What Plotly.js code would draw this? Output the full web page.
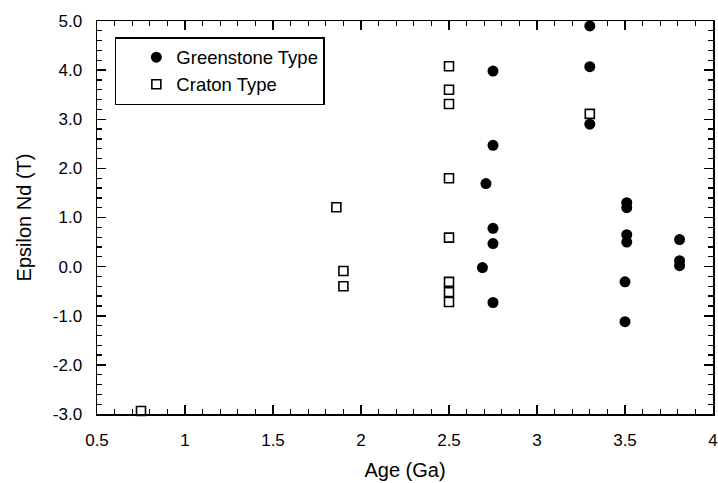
<!DOCTYPE html>
<html>
<head>
<meta charset="utf-8">
<script src="https://cdn.plot.ly/plotly-3.0.1.min.js"></script>
<style>html,body{margin:0;padding:0;background:#fff;}#chart{width:718px;height:483px;}</style>
</head>
<body>
<div id="chart"></div>
<script>
// Greenstone Type (filled circles)
var greenAge = [3.30, 3.30, 2.75, 3.30, 2.75, 2.71, 3.51, 3.51, 2.75, 2.75, 3.51, 3.51, 3.81, 3.81, 3.81, 2.69, 2.75, 3.50, 3.50];
var greenEps = [4.90, 4.07, 3.98, 2.90, 2.47, 1.69, 1.30, 1.20, 0.78, 0.47, 0.65, 0.50, 0.55, 0.12, 0.02, -0.02, -0.73, -0.31, -1.12];
// Craton Type (open squares)
var cratonAge = [0.75, 1.86, 1.90, 1.90, 2.50, 2.50, 2.50, 2.50, 2.50, 2.50, 2.50, 2.50, 3.30];
var cratonEps = [-2.94, 1.21, -0.09, -0.40, 4.08, 3.60, 3.31, 1.80, 0.59, -0.31, -0.52, -0.72, 3.11];
// axis ticks
var xTicks = [0.5, 1, 1.5, 2, 2.5, 3, 3.5, 4];
var xTickText = ['0.5', '1', '1.5', '2', '2.5', '3', '3.5', '4'];
var yTicks = [-3, -2, -1, 0, 1, 2, 3, 4, 5];
var yTickText = ['-3.0', '-2.0', '-1.0', '0.0', '1.0', '2.0', '3.0', '4.0', '5.0'];
var xMinorDtick = 0.1, yMinorDtick = 0.2;

var FONT = 'Liberation Sans, Arial, Helvetica, sans-serif';

var traces = [
  {x: greenAge, y: greenEps, type: 'scatter', mode: 'markers', name: 'Greenstone Type',
   marker: {symbol: 'circle', size: 11, color: '#000', line: {width: 0}}, cliponaxis: false},
  {x: cratonAge, y: cratonEps, type: 'scatter', mode: 'markers', name: 'Craton Type',
   marker: {symbol: 'square-open', size: 9, color: '#000', line: {width: 1.6}}, cliponaxis: false}
];

function axis(extra) {
  var a = {
    showgrid: false, zeroline: false, showline: true, linecolor: '#000', linewidth: 1.5,
    mirror: 'allticks', ticks: 'inside', ticklen: 9, tickwidth: 1.5, tickcolor: '#000',
    ticklabelstandoff: 10,
    tickfont: {family: FONT, size: 17, color: '#000'}
  };
  for (var k in extra) a[k] = extra[k];
  return a;
}

var layout = {
  width: 718, height: 483,
  margin: {l: 97, r: 5, t: 21, b: 69},
  paper_bgcolor: '#fff', plot_bgcolor: '#fff',
  font: {family: FONT, color: '#000'},
  showlegend: true,
  legend: {x: 0.029, y: 0.959, xanchor: 'left', yanchor: 'top',
    bgcolor: '#fff', bordercolor: '#000', borderwidth: 1.5,
    font: {size: 18.5, family: FONT, color: '#000'},
    indentation: 20, tracegroupgap: 0, entrywidth: 212},
  xaxis: axis({
    range: [0.5, 4], tickmode: 'array', tickvals: xTicks, ticktext: xTickText,
    minor: {dtick: xMinorDtick, ticks: 'inside', ticklen: 5, tickwidth: 1.3, tickcolor: '#000'},
    title: {text: 'Age (Ga)', font: {size: 20, family: FONT, color: '#000'}, standoff: 14}
  }),
  yaxis: axis({
    range: [-3, 5], tickmode: 'array', tickvals: yTicks, ticktext: yTickText,
    minor: {dtick: yMinorDtick, ticks: 'inside', ticklen: 5, tickwidth: 1.3, tickcolor: '#000'},
    title: {text: 'Epsilon Nd (T)', font: {size: 20, family: FONT, color: '#000'}, standoff: 16}
  })
};

Plotly.newPlot('chart', traces, layout, {displayModeBar: false, staticPlot: true});
</script>
</body>
</html>
